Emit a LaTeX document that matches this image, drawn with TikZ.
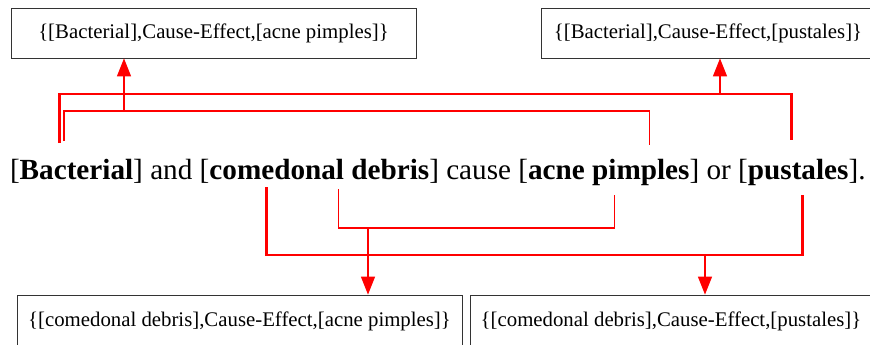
\documentclass[tikz,border=0pt]{standalone}
\usepackage{fontspec}
\setmainfont{Liberation Serif}
\usetikzlibrary{arrows.meta, positioning, calc}
\definecolor{lnred}{HTML}{FF0000}
\definecolor{boxgray}{HTML}{333333}

\begin{document}
\begin{tikzpicture}[
  x=1pt, y=-1pt,
  >={Triangle[length=18pt, width=14pt]},
  relbox/.style={draw=boxgray, line width=0.8pt, inner sep=0pt,
    font=\fontsize{20.8}{24}\selectfont},
  word/.style={inner sep=0pt, outer sep=0pt, font=\fontsize{29.2}{34}\selectfont},
  bword/.style={word, font=\fontsize{29.2}{34}\selectfont\bfseries},
  thinlink/.style={lnred, line width=1.3pt},
  thicklink/.style={lnred, line width=2.8pt},
  arr/.style={->, lnred, line width=1.3pt},
]

% Frame (the outer boxes run past the right and bottom edge)
\clip (0,0) rectangle (870,345);

% --- Sentence ---
\node[word, anchor=base west] (lb0) at (10,179) {[};
\node[bword, base right=0pt of lb0] (bact) {Bacterial};
\node[word, base right=0pt of bact] (lb1) {] and [};
\node[bword, base right=0pt of lb1] (debr) {comedonal debris};
\node[word, base right=0pt of debr] (lb2) {] cause [};
\node[bword, base right=0pt of lb2] (acne) {acne pimples};
\node[word, base right=0pt of acne] (lb3) {] or [};
\node[bword, base right=0pt of lb3] (pust) {pustales};
\node[word, base right=0pt of pust] (lb4) {].};

% --- Relation boxes ---
\node[relbox, minimum width=405pt, minimum height=50pt] (relA) at (213.5,33)
  {\{[Bacterial],Cause-Effect,[acne pimples]\}};
\node[relbox, minimum width=334pt, minimum height=50pt] (relB) at (708,33)
  {\{[Bacterial],Cause-Effect,[pustales]\}};
\node[relbox, minimum width=445pt, minimum height=52pt] (relC) at (239.5,321)
  {\{[comedonal debris],Cause-Effect,[acne pimples]\}};
\node[relbox, minimum width=402pt, minimum height=52pt] (relD) at (671,321)
  {\{[comedonal debris],Cause-Effect,[pustales]\}};

% --- Feet of the links on the words ---
\coordinate (bactT1) at ($(bact.north west)!0.35!(bact.north east)+(0,-15.5)$);
\coordinate (bactT2) at ($(bact.north west)!0.39!(bact.north east)+(0,-17.5)$);
\coordinate (acneT)  at ($(acne.north west)!0.75!(acne.north east)+(0,-14)$);
\coordinate (pustT)  at ($(pust.north west)!0.43!(pust.north east)+(0,-19)$);
\coordinate (debrB1) at ($(debr.south west)!0.26!(debr.south east)+(0,8)$);
\coordinate (debrB2) at ($(debr.south west)!0.586!(debr.south east)+(0,10)$);
\coordinate (acneB)  at ($(acne.south west)!0.535!(acne.south east)+(0,10)$);
\coordinate (pustB)  at ($(pust.south west)!0.54!(pust.south east)+(0,10)$);

% Junctions where the arrows leave the links
\coordinate (jA) at (124,111);
\coordinate (jB) at (720,94);
\coordinate (jC) at (368,228);
\coordinate (jD) at (705,255);

% --- Links above the sentence ---
\draw[thicklink] (bactT1) |- (jB) -| (pustT);
\draw[thinlink] (bactT2) |- (jA) -| (acneT);
\draw[arr] (jA) -- (jA |- relA.south);
\draw[arr] (jB) -- (jB |- relB.south);

% --- Links below the sentence ---
\draw[thinlink] (debrB2) |- (jC) -| (acneB);
\draw[thicklink] (debrB1) |- (jD) -| (pustB);
\draw[arr] (jC) -- (jC |- relC.north);
\draw[arr] (jD) -- (jD |- relD.north);

\end{tikzpicture}
\end{document}
